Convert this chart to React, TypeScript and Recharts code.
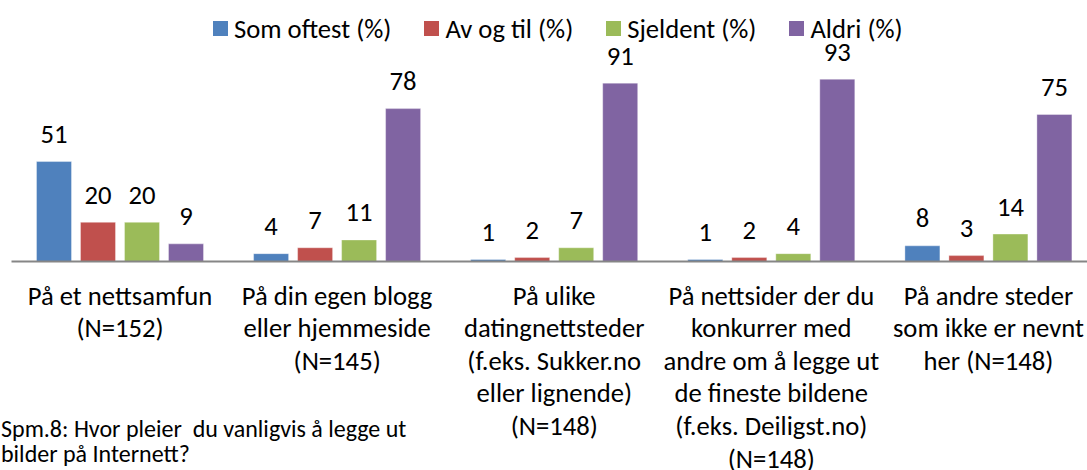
import { BarChart, Bar, XAxis, YAxis, LabelList, Legend } from 'recharts';

const FONT = 'Carlito, Calibri, Lato, sans-serif';
const SIZE = 26.67;

// categories (line breaks as in the original axis labels)
const categories = [
  'På et nettsamfun\n(N=152)',
  'På din egen blogg\neller hjemmeside\n(N=145)',
  'På ulike\ndatingnettsteder\n(f.eks. Sukker.no\neller lignende)\n(N=148)',
  'På nettsider der du\nkonkurrer med\nandre om å legge ut\nde fineste bildene\n(f.eks. Deiligst.no)\n(N=148)',
  'På andre steder\nsom ikke er nevnt\nher (N=148)',
];

const somOftest = [51, 4, 1, 1, 8];
const avOgTil = [20, 7, 2, 2, 3];
const sjeldent = [20, 11, 7, 4, 14];
const aldri = [9, 78, 91, 93, 75];

const seriesNames = ['Som oftest (%)', 'Av og til (%)', 'Sjeldent (%)', 'Aldri (%)'];
const seriesKeys = ['somOftest', 'avOgTil', 'sjeldent', 'aldri'];
const colors = ['#4F81BD', '#C0504D', '#9BBB59', '#8064A2'];

const caption = ['Spm.8: Hvor pleier  du vanligvis å legge ut', 'bilder på Internett?'];

const data = categories.map((name, i) => ({
  name,
  somOftest: somOftest[i],
  avOgTil: avOgTil[i],
  sjeldent: sjeldent[i],
  aldri: aldri[i],
}));

const CategoryTick = (props: any) => {
  const { x, y, payload } = props;
  const lines = String(payload.value).split('\n');
  return (
    <text x={x} y={y} textAnchor="middle" fill="#000" fontSize={SIZE} fontFamily={FONT}>
      {lines.map((line, i) => (
        <tspan key={i} x={x} y={y + 43 + i * 32.6} style={{ whiteSpace: 'pre' }}>
          {line}
        </tspan>
      ))}
    </text>
  );
};

const ValueLabel = (props: any) => {
  const { x, y, width, value } = props;
  return (
    <text x={x + width / 2} y={y - 18.5} textAnchor="middle" fill="#000" fontSize={SIZE} fontFamily={FONT}>
      {value}
    </text>
  );
};

const renderLegend = () => (
  <div style={{ display: 'flex', alignItems: 'center', fontFamily: FONT, fontSize: SIZE, lineHeight: '26px', whiteSpace: 'nowrap', color: '#000' }}>
    {seriesNames.map((name, i) => (
      <span key={name} style={{ display: 'flex', alignItems: 'center', marginRight: 33 }}>
        <span style={{ width: 15, height: 15, background: colors[i], marginRight: 6, display: 'inline-block' }} />
        {name}
      </span>
    ))}
  </div>
);

export default function App() {
  return (
    <div style={{ position: 'absolute', left: 0, top: 0, width: 1087, height: 470, overflow: 'hidden', background: '#fff' }}>
      <BarChart
        width={1100}
        height={470}
        data={data}
        margin={{ top: 65.5, right: 3, bottom: 8.5, left: 11.5 }}
        barSize={35}
        barGap={9}
      >
        <XAxis
          dataKey="name"
          interval={0}
          tick={<CategoryTick />}
          tickLine={false}
          tickSize={0}
          tickMargin={0}
          height={200}
          axisLine={{ stroke: '#868686', strokeWidth: 2 }}
        />
        <YAxis hide domain={[0, 100]} />
        <Legend
          layout="horizontal"
          verticalAlign="middle"
          align="center"
          wrapperStyle={{ position: 'absolute', top: 15.5, left: 213, width: 'auto', height: 26 }}
          content={renderLegend}
        />
        {seriesKeys.map((key, i) => (
          <Bar key={key} dataKey={key} name={seriesNames[i]} fill={colors[i]} stroke="#ffffff" strokeOpacity={0.35} strokeWidth={1} isAnimationActive={false}>
            <LabelList dataKey={key} content={<ValueLabel />} />
          </Bar>
        ))}
      </BarChart>
      <div style={{ position: 'absolute', left: 1, top: 417.3, fontFamily: FONT, fontSize: 24, lineHeight: '24.5px', color: '#000', whiteSpace: 'pre' }}>
        {caption.map((line) => (
          <div key={line}>{line}</div>
        ))}
      </div>
    </div>
  );
}
